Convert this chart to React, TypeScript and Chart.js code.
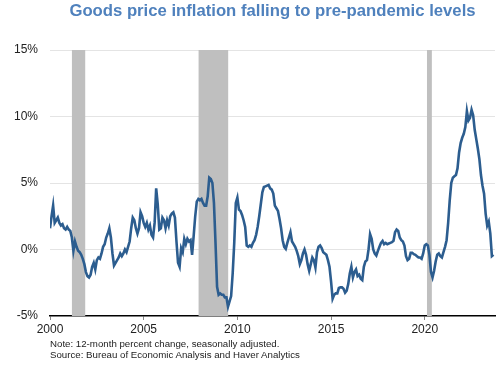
import React, { useEffect, useRef } from 'react';
import { Chart, registerables } from 'chart.js';

Chart.register(...registerables);

const START_YEAR = 2000;

// Monthly 12-month % change, starting January 2000
const goodsInflation: number[] = [
  // 2000
  1.6, 2.5, 3.3, 2.0, 2.2, 2.4, 2.0, 1.8, 1.9, 1.6, 1.5, 1.7,
  // 2001
  1.5, 1.4, 0.9, -0.1, 0.6, 0.2, -0.1, -0.2, -0.4, -0.7, -1.1, -1.7,
  // 2002
  -2.0, -2.1, -1.9, -1.3, -1.0, -1.5, -0.8, -0.6, -0.7, -0.3, 0.2, 0.4,
  // 2003
  0.9, 1.2, 1.6, 0.9, -0.3, -1.2, -1.0, -0.8, -0.6, -0.3, -0.5, -0.3,
  // 2004
  0.0, -0.2, 0.2, 0.6, 1.6, 2.4, 2.2, 1.6, 1.2, 1.6, 2.8, 2.5,
  // 2005
  2.0, 1.7, 2.0, 1.5, 1.8, 1.1, 0.9, 2.0, 4.6, 3.4, 1.5, 1.6,
  // 2006
  2.4, 2.2, 1.6, 2.2, 1.8, 2.5, 2.7, 2.8, 2.4, 0.6, -1.0, -1.3,
  // 2007
  0.1, -0.2, 0.8, 0.4, 0.8, 0.6, 0.7, -0.4, 1.0, 2.5, 3.6, 3.8,
  // 2008
  3.7, 3.8, 3.5, 3.3, 3.3, 4.0, 5.4, 5.3, 5.0, 3.5, 0.5, -2.8,
  // 2009
  -3.4, -3.3, -3.4, -3.4, -3.6, -3.6, -4.3, -3.9, -3.5, -1.8, 0.5, 3.5,
  // 2010
  3.9, 3.0, 2.9, 2.6, 2.2, 1.7, 0.3, 0.2, 0.3, 0.2, 0.5, 0.7,
  // 2011
  1.1, 1.7, 2.5, 3.4, 4.3, 4.7, 4.75, 4.8, 4.85, 4.6, 4.5, 4.2,
  // 2012
  3.3, 3.1, 2.9, 2.3, 1.6, 0.7, 0.2, 0.05, 0.5, 0.9, 1.3, 0.6,
  // 2013
  0.4, 0.2, -0.1, -0.5, -1.1, -0.8, -0.3, 0.0, -0.4, -1.1, -1.6, -1.1,
  // 2014
  -0.6, -0.8, -1.35, -0.2, 0.2, 0.3, 0.1, -0.2, -0.3, -0.4, -0.8, -1.3,
  // 2015
  -2.4, -3.7, -3.4, -3.3, -3.3, -2.9, -2.85, -2.85, -2.95, -3.25, -3.1, -2.6,
  // 2016
  -1.8, -1.3, -2.1, -1.7, -1.5, -2.0, -1.9, -2.2, -2.3, -1.3, -0.9, -0.8,
  // 2017
  0.0, 1.15, 0.8, 0.0, -0.3, -0.45, -0.1, 0.2, 0.5, 0.65, 0.4, 0.5,
  // 2018
  0.4, 0.45, 0.5, 0.55, 0.65, 1.3, 1.5, 1.4, 0.9, 0.7, 0.6, 0.3,
  // 2019
  -0.5, -0.8, -0.7, -0.25, -0.25, -0.35, -0.4, -0.5, -0.6, -0.6, -0.7, -0.3,
  // 2020
  0.3, 0.4, 0.3, -0.4, -1.7, -2.1, -1.6, -0.9, -0.4, -0.3, -0.5, -0.6,
  // 2021
  -0.2, 0.2, 0.7, 2.0, 3.7, 5.0, 5.4, 5.5, 5.6, 6.1, 7.3, 8.0,
  // 2022
  8.4, 8.7, 9.2, 10.4, 9.7, 9.9, 10.5, 10.1, 9.0, 8.3, 7.6, 6.8,
  // 2023
  5.6, 4.8, 4.2, 2.7, 1.8, 2.1, 1.2, -0.5, -0.4,
];

const recessionStarts = [2001.17, 2007.93, 2020.12];
const recessionEnds = [2001.88, 2009.51, 2020.38];

const xTicks = [2000, 2005, 2010, 2015, 2020];
const yTicks = [-5, 0, 5, 10, 15];

const titleText = 'Goods price inflation falling to pre-pandemic levels';
const noteLines = [
  'Note: 12-month percent change, seasonally adjusted.',
  'Source: Bureau of Economic Analysis and Haver Analytics',
];

const FONT = '"Liberation Sans", Arial, Helvetica, sans-serif';

const recessionPlugin = {
  id: 'recessionBands',
  beforeDatasetsDraw(chart: any) {
    const { ctx, chartArea, scales } = chart;
    ctx.save();
    ctx.fillStyle = '#bfbfbf';
    recessionStarts.forEach((s, i) => {
      const x0 = scales.x.getPixelForValue(s);
      const x1 = scales.x.getPixelForValue(recessionEnds[i]);
      ctx.fillRect(x0, chartArea.top, x1 - x0, chartArea.bottom - chartArea.top);
    });
    ctx.restore();
  },
};

export default function App() {
  const canvasRef = useRef<HTMLCanvasElement | null>(null);

  useEffect(() => {
    if (!canvasRef.current) return;
    const points = goodsInflation.map((v, i) => ({ x: START_YEAR + i / 12, y: v }));
    const chart = new Chart(canvasRef.current, {
      type: 'line',
      data: {
        datasets: [
          {
            data: points,
            borderColor: '#2c5d8f',
            borderWidth: 2.6,
            pointRadius: 0,
            tension: 0,
            fill: false,
          },
        ],
      },
      options: {
        animation: false,
        responsive: false,
        maintainAspectRatio: false,
        layout: { padding: { top: 50, right: 5, bottom: 0, left: 0 } },
        plugins: {
          legend: { display: false },
          tooltip: { enabled: false },
          title: { display: false },
        },
        scales: {
          x: {
            type: 'linear',
            min: 2000,
            max: 2023.75,
            afterBuildTicks: (axis: any) => {
              axis.ticks = xTicks.map((v) => ({ value: v }));
            },
            afterFit: (axis: any) => {
              axis.height = 49;
            },
            ticks: {
              callback: (v: any) => String(v),
              color: '#222',
              font: { family: FONT, size: 12 },
              padding: 2,
              maxRotation: 0,
              autoSkip: false,
            },
            grid: {
              drawOnChartArea: false,
              drawTicks: true,
              tickLength: 4,
              color: '#888',
            },
            border: { display: true, color: '#000', width: 1.5 },
          },
          y: {
            type: 'linear',
            min: -5,
            max: 15,
            afterBuildTicks: (axis: any) => {
              axis.ticks = yTicks.map((v) => ({ value: v }));
            },
            afterFit: (axis: any) => {
              axis.width = 50;
            },
            ticks: {
              callback: (v: any) => v + '%',
              color: '#222',
              font: { family: FONT, size: 12 },
              padding: 12,
            },
            grid: {
              drawTicks: false,
              color: (c: any) => (c.tick && c.tick.value === -5 ? 'rgba(0,0,0,0)' : '#e4e4e4'),
              lineWidth: 1,
            },
            border: { display: false },
          },
        },
      },
      plugins: [recessionPlugin],
    });
    return () => chart.destroy();
  }, []);

  return (
    <div style={{ position: 'fixed', left: 0, top: 0, width: 500, height: 365, background: '#fff', overflow: 'hidden' }}>
      <canvas ref={canvasRef} width={500} height={365} style={{ position: 'absolute', left: 0, top: 0, width: 500, height: 365 }} />
      <div
        style={{
          position: 'absolute',
          left: 50,
          width: 445,
          top: 0,
          textAlign: 'center',
          fontFamily: FONT,
          fontWeight: 'bold',
          fontSize: 16.7,
          lineHeight: '22px',
          color: '#4f81bd',
          whiteSpace: 'nowrap',
        }}
      >
        {titleText}
      </div>
      <div
        style={{
          position: 'absolute',
          left: 50,
          top: 338,
          fontFamily: FONT,
          fontSize: 9.7,
          lineHeight: '11px',
          color: '#222',
          whiteSpace: 'nowrap',
        }}
      >
        {noteLines.map((l, i) => (
          <div key={i}>{l}</div>
        ))}
      </div>
    </div>
  );
}
